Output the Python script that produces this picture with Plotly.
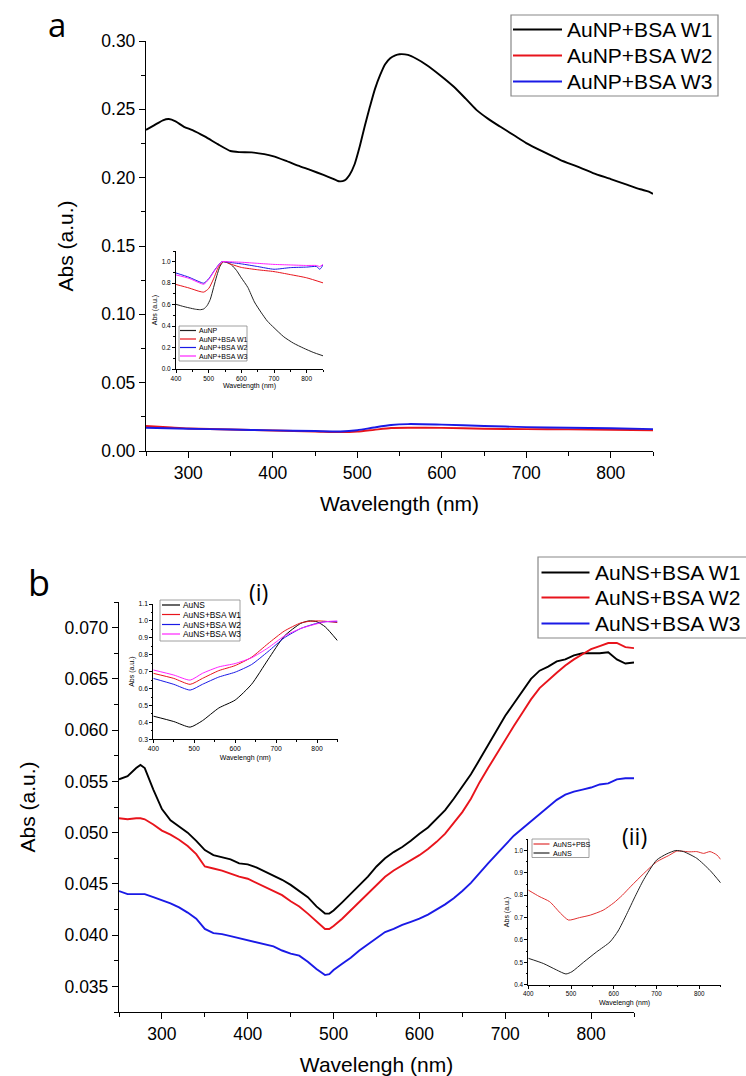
import plotly.graph_objects as go

# ---------------- Panel a: AuNP + BSA washes ----------------
a_w1_nm = [250, 260, 270, 277, 285, 295, 305, 320, 335, 350, 360, 375, 390, 400, 415, 430,
           445, 460, 470, 478, 485, 491, 497, 503, 509, 515, 521, 527, 533, 539, 545, 550,
           560, 570, 582, 598, 614, 628, 641, 655, 669, 685, 700, 720, 740, 760, 779, 800,
           819, 835, 845, 850]
a_w1_abs = [0.2350, 0.2385, 0.2420, 0.2429, 0.2412, 0.2372, 0.2348, 0.2300, 0.2245, 0.2195,
            0.2187, 0.2185, 0.2172, 0.2158, 0.2125, 0.2088, 0.2055, 0.2020, 0.1995, 0.1974,
            0.1980, 0.2022, 0.2100, 0.2229, 0.2380, 0.2520, 0.2650, 0.2750, 0.2830, 0.2874,
            0.2895, 0.2903, 0.2898, 0.2870, 0.2825, 0.2750, 0.2667, 0.2580, 0.2496, 0.2430,
            0.2374, 0.2312, 0.2253, 0.2190, 0.2131, 0.2082, 0.2034, 0.1990, 0.1949, 0.1915,
            0.1898, 0.1881]

a_w2_nm = [250, 280, 300, 350, 400, 450, 480, 500, 520, 540, 560, 600, 650, 700, 750, 800, 850]
a_w2_abs = [0.0183, 0.0172, 0.0165, 0.0157, 0.0150, 0.0143, 0.0138, 0.0142, 0.0155, 0.0168,
            0.0170, 0.0169, 0.0163, 0.0160, 0.0158, 0.0156, 0.0152]

a_w3_nm = [250, 300, 350, 400, 450, 480, 500, 520, 540, 560, 600, 650, 700, 750, 800, 850]
a_w3_abs = [0.0170, 0.0163, 0.0157, 0.0151, 0.0146, 0.0143, 0.0152, 0.0172, 0.0190, 0.0197,
            0.0193, 0.0183, 0.0175, 0.0170, 0.0167, 0.0160]

# inset of panel a (normalised spectra)
ia_np_nm = [400, 420, 440, 460, 475, 485, 495, 505, 515, 525, 535, 545, 555, 570, 585, 600,
            620, 640, 660, 680, 700, 730, 760, 790, 820, 850]
ia_np = [0.603, 0.585, 0.570, 0.557, 0.553, 0.560, 0.590, 0.650, 0.760, 0.870, 0.960, 1.000,
         0.995, 0.970, 0.920, 0.850, 0.760, 0.625, 0.530, 0.445, 0.385, 0.300, 0.240, 0.195,
         0.155, 0.123]
ia_w1_nm = [400, 440, 470, 485, 500, 515, 530, 545, 570, 600, 650, 700, 750, 800, 850]
ia_w1 = [0.788, 0.755, 0.725, 0.717, 0.750, 0.840, 0.950, 1.000, 0.975, 0.947, 0.925, 0.908,
         0.880, 0.850, 0.803]
ia_w2_nm = [400, 440, 470, 485, 500, 520, 540, 560, 600, 650, 700, 750, 800, 830, 840, 845, 850]
ia_w2 = [0.895, 0.855, 0.815, 0.800, 0.840, 0.930, 1.000, 0.995, 0.980, 0.955, 0.930, 0.945,
         0.950, 0.955, 0.930, 0.945, 0.970]
ia_w3_nm = [400, 440, 470, 485, 500, 520, 540, 560, 600, 650, 700, 750, 800, 830, 840, 850]
ia_w3 = [0.877, 0.845, 0.805, 0.790, 0.835, 0.925, 1.000, 1.000, 0.995, 0.985, 0.975, 0.970,
         0.965, 0.965, 0.955, 0.975]

# ---------------- Panel b: AuNS + BSA washes ----------------
b_nm = [250, 260, 270, 275, 280, 290, 300, 310, 320, 330, 340, 350, 360, 370, 380, 390, 400,
        410, 420, 430, 440, 450, 460, 470, 480, 490, 495, 500, 510, 520, 530, 540, 550, 560,
        570, 580, 590, 600, 610, 620, 630, 640, 650, 660, 670, 680, 690, 700, 710, 720, 730,
        740, 750, 760, 770, 780, 790, 800, 810, 820, 830, 840, 850]
b_w1 = [0.0552, 0.0555, 0.0563, 0.0566, 0.0563, 0.0542, 0.0523, 0.0512, 0.0506, 0.0500,
        0.0492, 0.0483, 0.0478, 0.0476, 0.0474, 0.0470, 0.0469, 0.0466, 0.0462, 0.0458,
        0.0454, 0.0449, 0.0443, 0.0437, 0.0428, 0.0421, 0.0421, 0.0424, 0.0432, 0.0440,
        0.0448, 0.0457, 0.0467, 0.0475, 0.0481, 0.0486, 0.0492, 0.0499, 0.0505, 0.0513,
        0.0522, 0.0533, 0.0545, 0.0557, 0.0571, 0.0585, 0.0599, 0.0614, 0.0626, 0.0638,
        0.0650, 0.0658, 0.0662, 0.0667, 0.0669, 0.0673, 0.0675, 0.0675, 0.0675, 0.0676,
        0.0669, 0.0665, 0.0666]
b_w2 = [0.0514, 0.0513, 0.0514, 0.0514, 0.0513, 0.0508, 0.0502, 0.0498, 0.0493, 0.0487,
        0.0479, 0.0467, 0.0465, 0.0463, 0.0460, 0.0457, 0.0455, 0.0451, 0.0447, 0.0443,
        0.0439, 0.0433, 0.0428, 0.0421, 0.0413, 0.0406, 0.0406, 0.0409, 0.0416, 0.0424,
        0.0432, 0.0441, 0.0449, 0.0457, 0.0463, 0.0468, 0.0473, 0.0478, 0.0484, 0.0491,
        0.0499, 0.0509, 0.0520, 0.0533, 0.0549, 0.0563, 0.0577, 0.0591, 0.0604, 0.0617,
        0.0630, 0.0641, 0.0649, 0.0656, 0.0663, 0.0669, 0.0674, 0.0679, 0.0682, 0.0685,
        0.0685, 0.0681, 0.0680]
b_w3 = [0.0443, 0.0440, 0.0440, 0.0440, 0.0440, 0.0437, 0.0434, 0.0431, 0.0427, 0.0422,
        0.0416, 0.0406, 0.0402, 0.0401, 0.0399, 0.0397, 0.0395, 0.0393, 0.0391, 0.0389,
        0.0385, 0.0382, 0.0380, 0.0374, 0.0367, 0.0361, 0.0362, 0.0366, 0.0372, 0.0378,
        0.0385, 0.0391, 0.0397, 0.0403, 0.0406, 0.0410, 0.0413, 0.0416, 0.0420, 0.0425,
        0.0430, 0.0436, 0.0443, 0.0451, 0.0461, 0.0470, 0.0479, 0.0488, 0.0497, 0.0504,
        0.0511, 0.0518, 0.0525, 0.0532, 0.0537, 0.0540, 0.0542, 0.0544, 0.0547, 0.0548,
        0.0552, 0.0553, 0.0553]

# inset (i): normalised AuNS spectra
i_nm = [400, 450, 490, 520, 560, 600, 640, 680, 720, 760, 780, 800, 820, 850]
i_ns = [0.437, 0.405, 0.372, 0.410, 0.485, 0.532, 0.625, 0.770, 0.910, 0.985, 1.000, 0.995,
        0.965, 0.883]
i_w1 = [0.690, 0.660, 0.625, 0.660, 0.706, 0.736, 0.785, 0.865, 0.940, 0.988, 0.997, 1.000,
        0.998, 0.990]
i_w2 = [0.660, 0.625, 0.591, 0.625, 0.668, 0.697, 0.742, 0.818, 0.900, 0.955, 0.972, 0.986,
        0.995, 0.995]
i_w3 = [0.710, 0.680, 0.650, 0.690, 0.728, 0.748, 0.782, 0.840, 0.910, 0.955, 0.970, 0.983,
        0.995, 1.000]

# inset (ii): AuNS vs AuNS in PBS
ii_pbs_nm = [400, 425, 450, 475, 494, 520, 545, 575, 600, 620, 640, 670, 700, 730, 747, 778,
             794, 810, 825, 841, 850]
ii_pbs = [0.823, 0.795, 0.771, 0.720, 0.689, 0.700, 0.711, 0.733, 0.766, 0.800, 0.840, 0.897,
          0.949, 0.979, 0.997, 0.994, 0.995, 0.987, 0.995, 0.980, 0.960]
ii_ns_nm = [400, 435, 466, 488, 502, 529, 560, 591, 610, 630, 650, 670, 700, 724, 745, 763,
            794, 825, 850]
ii_ns = [0.518, 0.495, 0.466, 0.448, 0.458, 0.500, 0.547, 0.591, 0.640, 0.715, 0.795, 0.870,
         0.957, 0.985, 1.000, 0.995, 0.965, 0.911, 0.855]

W, H = 746, 1076
FONT = "Liberation Sans"
BLACK, RED, BLUE, MAGENTA = "#000000", "#e8141c", "#1a1ae6", "#ff22ff"
DARK = "#222222"


def fx(px):
    return px / W


def fy(py):
    return 1 - py / H


fig = go.Figure()


def line(x, y, color, name, xa, ya, width, smooth=False):
    fig.add_trace(go.Scatter(
        x=x, y=y, mode="lines", name=name, xaxis=xa, yaxis=ya, showlegend=False,
        line=dict(color=color, width=width, shape="spline" if smooth else "linear",
                  smoothing=0.6)))


# panel a main
line(a_w1_nm, a_w1_abs, BLACK, "AuNP+BSA W1", "x", "y", 1.9, True)
line(a_w2_nm, a_w2_abs, RED, "AuNP+BSA W2", "x", "y", 1.9, True)
line(a_w3_nm, a_w3_abs, BLUE, "AuNP+BSA W3", "x", "y", 1.9, True)
# panel a inset
line(ia_np_nm, ia_np, DARK, "AuNP", "x2", "y2", 1.0, True)
line(ia_w1_nm, ia_w1, RED, "AuNP+BSA W1", "x2", "y2", 1.0, True)
line(ia_w2_nm, ia_w2, BLUE, "AuNP+BSA W2", "x2", "y2", 1.0, True)
line(ia_w3_nm, ia_w3, MAGENTA, "AuNP+BSA W3", "x2", "y2", 1.0, True)
# panel b main
line(b_nm, b_w1, BLACK, "AuNS+BSA W1", "x3", "y3", 1.9)
line(b_nm, b_w2, RED, "AuNS+BSA W2", "x3", "y3", 1.9)
line(b_nm, b_w3, BLUE, "AuNS+BSA W3", "x3", "y3", 1.9)
# inset (i)
line(i_nm, i_ns, BLACK, "AuNS", "x4", "y4", 1.0, True)
line(i_nm, i_w1, RED, "AuNS+BSA W1", "x4", "y4", 1.0, True)
line(i_nm, i_w2, BLUE, "AuNS+BSA W2", "x4", "y4", 1.0, True)
line(i_nm, i_w3, MAGENTA, "AuNS+BSA W3", "x4", "y4", 1.0, True)
# inset (ii)
line(ii_pbs_nm, ii_pbs, "#e03030", "AuNS+PBS", "x5", "y5", 1.0, True)
line(ii_ns_nm, ii_ns, DARK, "AuNS", "x5", "y5", 1.0, True)


def axis(domain, rng, dtick, minor, ticklen, fsize, title, tsize, standoff,
         fmt=None, tick0=None, anchor=None):
    lw = 1.3 if ticklen > 4 else 0.9
    d = dict(domain=domain, range=rng, dtick=dtick, showline=True, linecolor="black",
             linewidth=lw, ticks="outside", ticklen=ticklen, tickwidth=lw,
             tickcolor="black", showgrid=False, zeroline=False, mirror=False, anchor=anchor,
             automargin=False,
             tickfont=dict(family=FONT, size=fsize, color="black"),
             title=dict(text=title, font=dict(family=FONT, size=tsize, color="black"),
                        standoff=standoff),
             minor=dict(dtick=minor, ticks="outside", ticklen=ticklen * 0.6, tickwidth=lw,
                        tickcolor="black", showgrid=False))
    if fmt:
        d["tickformat"] = fmt
    if tick0 is not None:
        d["tick0"] = tick0
    return d


layout_axes = dict(
    xaxis=axis([fx(146), fx(653)], [250, 850], 100, 50, 6, 17.5, "Wavelength (nm)", 21, 14,
               tick0=0, anchor="y"),
    yaxis=axis([fy(451), fy(41)], [0, 0.30], 0.05, 0.025, 6, 17.5, "Abs (a.u.)", 21, 21,
               fmt=".2f", anchor="x"),
    xaxis2=axis([fx(176), fx(323)], [400, 850], 100, 50, 3, 6.5, "Wavelength (nm)", 7, 2,
                tick0=0, anchor="y2"),
    yaxis2=axis([fy(369), fy(251)], [0, 1.1], 0.2, 0.1, 3, 6.5, "Abs (a.u.)", 7, 3,
                fmt=".1f", tick0=0, anchor="x2"),
    xaxis3=axis([fx(119), fx(634)], [250, 850], 100, 50, 6, 17.5, "Wavelengh (nm)", 21, 15,
                tick0=0, anchor="y3"),
    yaxis3=axis([fy(1012), fy(602)], [0.0325, 0.0725], 0.005, 0.0025, 6, 17.5, "Abs (a.u.)",
                21, 23, fmt=".3f", tick0=0, anchor="x3"),
    xaxis4=axis([fx(153.3), fx(337.5)], [400, 850], 100, 50, 3, 6.8, "Wavelengh (nm)", 7, 3,
                tick0=0, anchor="y4"),
    yaxis4=axis([fy(739.3), fy(604)], [0.3, 1.1], 0.1, 0.05, 3, 6.8, "Abs (a.u.)", 7, 3,
                fmt=".1f", tick0=0, anchor="x4"),
    xaxis5=axis([fx(528.3), fx(720.7)], [400, 850], 100, 50, 3, 6.3, "Wavelengh (nm)", 7, 3,
                tick0=0, anchor="y5"),
    yaxis5=axis([fy(984.7), fy(839.3)], [0.4, 1.05], 0.1, 0.05, 3, 6.3, "Abs (a.u.)", 7, 3,
                fmt=".1f", tick0=0, anchor="x5"),
)

fig.update_layout(
    width=W, height=H, margin=dict(l=0, r=0, t=0, b=0, autoexpand=False),
    paper_bgcolor="white", plot_bgcolor="white",
    **layout_axes,
)

# legends: framed boxes with short line swatches and labels
shapes = []
annotations = []


def legend_box(box, rows, sw_x, text_x, fsize, lw, frame_w):
    x0, y0, x1, y1 = box
    shapes.append(dict(type="rect", xref="paper", yref="paper", x0=fx(x0), x1=fx(x1),
                       y0=fy(y1), y1=fy(y0), line=dict(color="#888888", width=frame_w),
                       fillcolor="rgba(0,0,0,0)", layer="above"))
    for label, color, yc in rows:
        shapes.append(dict(type="line", xref="paper", yref="paper", x0=fx(sw_x[0]),
                           x1=fx(sw_x[1]), y0=fy(yc), y1=fy(yc),
                           line=dict(color=color, width=lw)))
        annotations.append(dict(text=label, xref="paper", yref="paper", x=fx(text_x),
                                y=fy(yc), xanchor="left", yanchor="middle", showarrow=False,
                                font=dict(family=FONT, size=fsize, color="black")))


legend_box((511, 15, 718, 96),
           [("AuNP+BSA W1", BLACK, 29.5), ("AuNP+BSA W2", RED, 55.5),
            ("AuNP+BSA W3", BLUE, 81.5)],
           (513, 562), 565, 21, 1.8, 1.2)
legend_box((538, 557, 748, 638),
           [("AuNS+BSA W1", BLACK, 572.5), ("AuNS+BSA W2", RED, 597.5),
            ("AuNS+BSA W3", BLUE, 623.5)],
           (541.5, 589.5), 593, 21, 1.8, 1.2)
legend_box((179, 326, 247, 361),
           [("AuNP", DARK, 330.5), ("AuNP+BSA W1", RED, 339),
            ("AuNP+BSA W2", BLUE, 347.5), ("AuNP+BSA W3", MAGENTA, 356)],
           (180, 196), 197, 7, 1.2, 0.8)
legend_box((160, 600, 240, 641),
           [("AuNS", BLACK, 605), ("AuNS+BSA W1", RED, 614.5),
            ("AuNS+BSA W2", BLUE, 624.5), ("AuNS+BSA W3", MAGENTA, 634)],
           (162, 180), 181, 8.4, 1.2, 0.8)
legend_box((532, 839, 589, 857.5),
           [("AuNS+PBS", "#e03030", 844), ("AuNS", DARK, 853)],
           (533.5, 549.5), 551, 7.2, 1.2, 0.8)

# panel letters and inset tags
annotations.append(dict(text="a", xref="paper", yref="paper", x=fx(57), y=1,
                        xanchor="center", yanchor="top", showarrow=False,
                        font=dict(family="Open Sans", size=33, color="black")))
for txt, x, y, size in [("b", 39, 582, 36), ("(i)", 258, 592, 23), ("(ii)", 634, 836, 23)]:
    annotations.append(dict(text=txt, xref="paper", yref="paper", x=fx(x), y=fy(y),
                            xanchor="center", yanchor="middle", showarrow=False,
                            font=dict(family="Open Sans", size=size, color="black")))

fig.update_layout(shapes=shapes, annotations=annotations)
fig.write_html("out.html")
